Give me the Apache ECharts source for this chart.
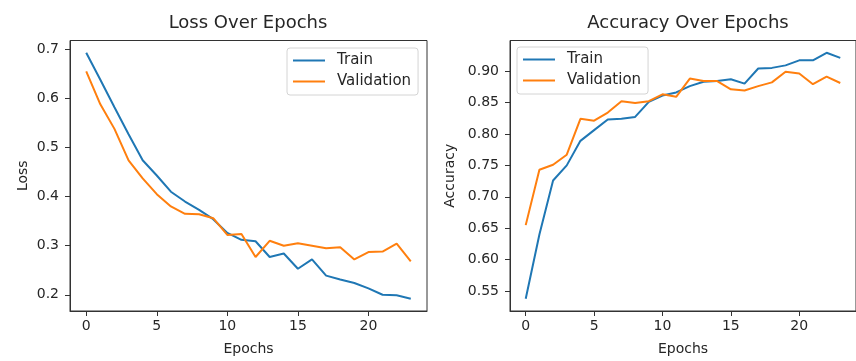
<!DOCTYPE html>
<html>
<head>
<meta charset="utf-8">
<script src="https://cdn.jsdelivr.net/npm/echarts@6/dist/echarts.min.js"></script>
<style>
    html, body { margin: 0; padding: 0; background: #fff; }
    #chart { width: 856px; height: 361px; }
</style>
</head>
<body>
<div id="chart"></div>
<script>
// epochs 0..23
const epochs = [0, 1, 2, 3, 4, 5, 6, 7, 8, 9, 10, 11, 12, 13, 14, 15, 16, 17, 18, 19, 20, 21, 22, 23];

const trainLoss = [0.693, 0.638, 0.582, 0.527, 0.474, 0.443, 0.410, 0.390, 0.373, 0.354, 0.326, 0.312,
    0.309, 0.277, 0.284, 0.253, 0.272, 0.239, 0.231, 0.224, 0.213, 0.200, 0.199, 0.192];
const valLoss = [0.655, 0.588, 0.538, 0.474, 0.437, 0.405, 0.380, 0.365, 0.364, 0.356, 0.322, 0.324,
    0.277, 0.310, 0.300, 0.305, 0.300, 0.295, 0.297, 0.272, 0.287, 0.288, 0.304, 0.268];

const trainAcc = [0.538, 0.640, 0.726, 0.750, 0.789, 0.806, 0.823, 0.824, 0.827, 0.851, 0.861, 0.866,
    0.876, 0.883, 0.884, 0.887, 0.880, 0.904, 0.905, 0.909, 0.917, 0.917, 0.929, 0.921];
const valAcc = [0.655, 0.743, 0.751, 0.767, 0.824, 0.821, 0.834, 0.852, 0.849, 0.852, 0.863, 0.859,
    0.888, 0.884, 0.884, 0.871, 0.869, 0.876, 0.882, 0.899, 0.896, 0.879, 0.891, 0.881];

const epochTicks = [0, 5, 10, 15, 20];
const lossTicks = [0.2, 0.3, 0.4, 0.5, 0.6, 0.7];
const accTicks = [0.55, 0.60, 0.65, 0.70, 0.75, 0.80, 0.85, 0.90];

const FONT = "DejaVu Sans";
const TEXT = "#262626";
const BLUE = "#1f77b4";
const ORANGE = "#ff7f0e";

// matplotlib style 5% margins
const pad = (arr, frac) => {
    const lo = Math.min(...arr), hi = Math.max(...arr);
    const m = (hi - lo) * frac;
    return [lo - m, hi + m];
};
const xRange = pad(epochs, 0.05);
const lossRange = pad(trainLoss.concat(valLoss), 0.05);
const accRange = pad(trainAcc.concat(valAcc), 0.05);

const makeX = (gridIndex) => ({
    type: "value",
    gridIndex,
    min: xRange[0],
    max: xRange[1],
    name: "Epochs",
    nameLocation: "middle",
    nameGap: 31,
    nameTextStyle: { fontFamily: FONT, fontSize: 14, color: TEXT },
    axisLine: { show: true, onZero: false, lineStyle: { color: "#333", width: 1 } },
    axisTick: { show: true, length: 5, customValues: epochTicks, lineStyle: { color: "#333" } },
    axisLabel: { customValues: epochTicks, margin: 8, fontFamily: FONT, fontSize: 14, color: TEXT },
    splitLine: { show: false }
});

const makeY = (gridIndex, range, ticks, name, gap, digits) => ({
    type: "value",
    gridIndex,
    min: range[0],
    max: range[1],
    name,
    nameLocation: "middle",
    nameRotate: 90,
    nameGap: gap,
    nameTextStyle: { fontFamily: FONT, fontSize: 14, color: TEXT },
    axisLine: { show: true, onZero: false, lineStyle: { color: "#333", width: 1 } },
    axisTick: { show: true, length: 5, customValues: ticks, lineStyle: { color: "#333" } },
    axisLabel: {
        customValues: ticks,
        margin: 11,
        fontFamily: FONT,
        fontSize: 14,
        color: TEXT,
        formatter: v => v.toFixed(digits)
    },
    splitLine: { show: false }
});

const makeSeries = (name, data, color, idx) => ({
    name,
    type: "line",
    xAxisIndex: idx,
    yAxisIndex: idx,
    data: data.map((v, i) => [epochs[i], v]),
    symbol: "none",
    smooth: false,
    color,
    lineStyle: { color, width: 2 },
    emphasis: { disabled: true }
});

const makeLegend = (left, top) => ({
    left,
    top,
    orient: "vertical",
    icon: "rect",
    itemWidth: 32,
    itemHeight: 2,
    itemGap: 6,
    padding: [5, 7, 6, 6],
    borderColor: "#d4d4d4",
    borderWidth: 1,
    borderRadius: 3,
    backgroundColor: "rgba(255,255,255,0.8)",
    selectedMode: false,
    textStyle: { fontFamily: FONT, fontSize: 15, color: TEXT, padding: [0, 0, 0, 7] },
    data: ["Train", "Validation"]
});

const chart = echarts.init(document.getElementById("chart"), null, { renderer: "canvas" });

const option = {
    backgroundColor: "#fff",
    animation: false,
    title: [
        {
            text: "Loss Over Epochs",
            left: 248,
            textAlign: "center",
            top: 14,
            padding: 0,
            textStyle: { fontFamily: FONT, fontSize: 18, fontWeight: "normal", color: TEXT }
        },
        {
            text: "Accuracy Over Epochs",
            left: 688,
            textAlign: "center",
            top: 14,
            padding: 0,
            textStyle: { fontFamily: FONT, fontSize: 18, fontWeight: "normal", color: TEXT }
        }
    ],
    legend: [makeLegend(287, 48), makeLegend(517, 47)],
    grid: [
        { left: 70, top: 40.5, width: 357, height: 272, show: true, borderColor: "#333", borderWidth: 1, containLabel: false },
        { left: 510, top: 40.5, width: 357, height: 272, show: true, borderColor: "#333", borderWidth: 1, containLabel: false }
    ],
    xAxis: [makeX(0), makeX(1)],
    yAxis: [
        makeY(0, lossRange, lossTicks, "Loss", 40, 1),
        makeY(1, accRange, accTicks, "Accuracy", 53, 2)
    ],
    series: [
        makeSeries("Train", trainLoss, BLUE, 0),
        makeSeries("Validation", valLoss, ORANGE, 0),
        makeSeries("Train", trainAcc, BLUE, 1),
        makeSeries("Validation", valAcc, ORANGE, 1)
    ]
};

chart.setOption(option);
</script>
</body>
</html>
